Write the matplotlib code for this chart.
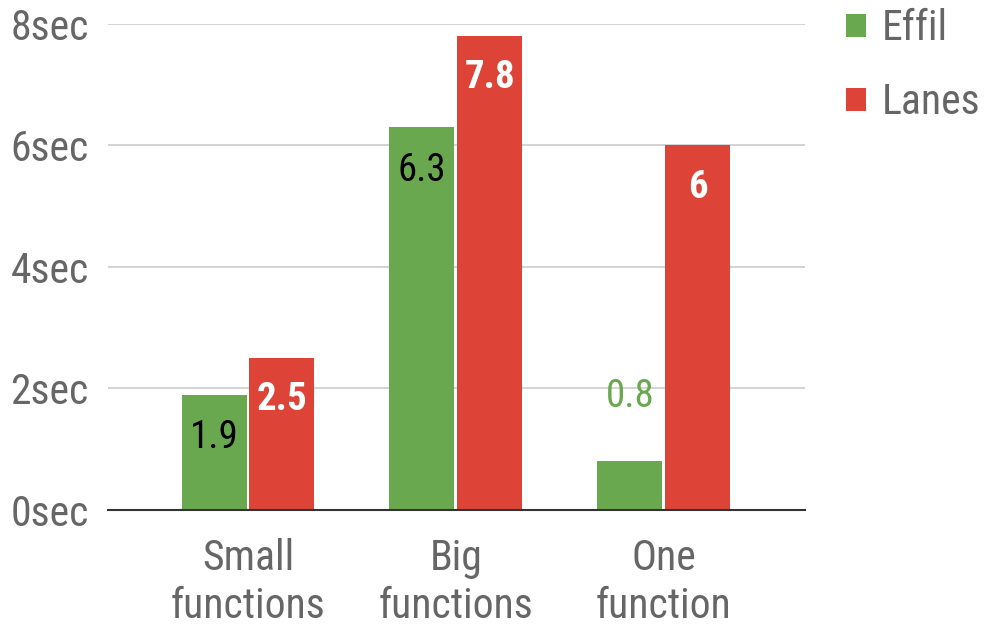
import matplotlib.pyplot as plt
import numpy as np

plt.rcParams["font.family"] = ["Roboto Condensed", "Roboto", "DejaVu Sans"]

CATEGORIES = ["Small\nfunctions", "Big\nfunctions", "One\nfunction"]
EFFIL = [1.9, 6.3, 0.8]
LANES = [2.5, 7.8, 6.0]
Y_TICKS = [0, 2, 4, 6, 8]

GREEN = "#6aa84f"
RED = "#dd4437"
GREY = "#666666"

fig = plt.figure(figsize=(9.84, 6.26), dpi=100)
ax = fig.add_axes([0.1098, 0.1853, 0.708, 0.7764])

x = np.arange(len(CATEGORIES))
w = 0.3125
gap = 0.007
b1 = ax.bar(x - w / 2 - gap, EFFIL, w, color=GREEN, label="Effil", zorder=3)
b2 = ax.bar(x + w / 2 + gap, LANES, w, color=RED, label="Lanes", zorder=3)

# value labels
for rect, v in zip(b1, EFFIL):
    cx = rect.get_x() + rect.get_width() / 2
    if v < 1.5:
        ax.annotate(f"{v:g}", (cx, v), xytext=(0, 47), textcoords="offset points",
                    ha="center", va="center", fontsize=28, color=GREEN)
    else:
        ax.annotate(f"{v:g}", (cx, v), xytext=(0, -31), textcoords="offset points",
                    ha="center", va="center", fontsize=28, color="black")
for rect, v in zip(b2, LANES):
    cx = rect.get_x() + rect.get_width() / 2
    ax.annotate(f"{v:g}", (cx, v), xytext=(0, -30), textcoords="offset points",
                ha="center", va="center", fontsize=28, color="white", fontweight="bold")

ax.set_xlim(-0.673, 2.678)
ax.set_ylim(0, 8)
ax.set_yticks(Y_TICKS)
ax.set_yticklabels([f"{t}sec" for t in Y_TICKS])
ax.set_xticks(x)
ax.set_xticklabels(CATEGORIES, linespacing=1.22)
ax.tick_params(axis="both", length=0, labelsize=30, labelcolor=GREY)
ax.tick_params(axis="y", pad=14)
ax.tick_params(axis="x", pad=20)

ax.grid(axis="y", color="#cccccc", linewidth=1.2, zorder=0)
for s in ["top", "right", "left"]:
    ax.spines[s].set_visible(False)
ax.spines["bottom"].set_color("#333333")
ax.spines["bottom"].set_linewidth(1.5)
ax.spines["bottom"].set_zorder(4)

fig.legend(handles=[b1, b2], loc="upper left", bbox_to_anchor=(0.822, 1.047),
           frameon=False, fontsize=30, labelcolor=GREY, handlelength=0.48,
           handleheight=0.48, handletextpad=0.38, labelspacing=0.79)

plt.savefig("out.png", dpi=100)
